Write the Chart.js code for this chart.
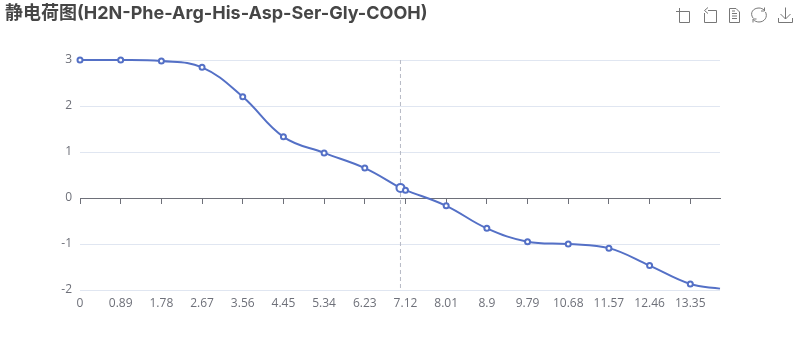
<!DOCTYPE html>
<html><head><meta charset="utf-8">
<style>
html,body{margin:0;padding:0;background:#fff;}
#wrap{position:relative;width:800px;height:360px;overflow:hidden;}
#tools{position:absolute;left:0;top:0;}
</style>
<script src="https://cdn.jsdelivr.net/npm/chart.js@4"></script>
</head><body>
<div id="wrap">
<canvas id="c" width="800" height="360"></canvas>
<svg id="tools" width="800" height="40" fill="none" stroke="#777" stroke-width="1">
<path d="M676.500 11.500H689.500V22.500H679.500V8M676 11.500H679"/>
<path d="M708 10.500H716.500V22.500H704.500V13M708 7.500L704.500 10.500L708 13.500"/>
<path d="M729.500 8.500H736L739.500 12V22.500H729.500ZM732 13.500H737M732 16H737M732 18.500H737M732 11H735"/>
<path d="M753 18C749.500 13 753 8 759 8C761 8 763 9 764 10M765.500 12C768 17 764.500 22 759 22C756.500 22 755 21 753.500 20M764.500 7.500V11H761M753 22.500V19H756.500"/>
<path d="M785.500 7.500V19M780.500 14L785.500 19L790.500 14M778.500 18V22.500H792.500V18"/>
</svg>
</div>
<script>
const titleText = "静电荷图(H2N-Phe-Arg-His-Asp-Ser-Gly-COOH)";
const tickValues = [0,0.89,1.78,2.67,3.56,4.45,5.34,6.23,7.12,8.01,8.9,9.79,10.68,11.57,12.46,13.35];
const xValues = [0,0.89,1.78,2.67,3.56,4.45,5.34,6.23,7.01,7.12,8.01,8.9,9.79,10.68,11.57,12.46,13.35,14];
const charges = [3,3,2.98,2.84,2.2,1.33,0.98,0.65,0.22,0.17,-0.17,-0.66,-0.95,-1,-1.09,-1.47,-1.87,-1.97];
const hoverX = 7.01;
const yMin = -2, yMax = 3, xMin = 0, xMax = 14;
const font = '"Open Sans","Noto Sans CJK SC",sans-serif';
const titleFont = 'Inter,"Noto Sans CJK SC",sans-serif';
const axisGray = '#6E7079', blue = '#5470C6';
const setTicks = s => { s.ticks = tickValues.map(v => ({value:v})); };

new Chart(document.getElementById('c'), {
  type:'line',
  data:{datasets:[
    {label:'静电荷', data:xValues.map((x,i)=>({x,y:charges[i]})), order:1,
     borderColor:blue, borderWidth:2, backgroundColor:'#fff', tension:0.4,
     pointBackgroundColor:'#fff', pointBorderColor:blue,
     pointBorderWidth:2,
     pointRadius:xValues.map(x=> x===hoverX ? 4 : (x===xMax ? 0 : 2.5)), clip:false},
    {label:'pointer', data:[{x:hoverX,y:yMax},{x:hoverX,y:yMin}], order:2,
     borderColor:'#B6B9C5', borderWidth:1, borderDash:[4,3], pointRadius:0, tension:0}
  ]},
  options:{
    responsive:false, animation:false, events:[],
    layout:{padding:{left:5,right:80,top:0,bottom:0}},
    plugins:{legend:{display:false},tooltip:{enabled:false},
      title:{display:true,text:titleText,align:'start',color:'#464646',
        font:{family:titleFont,size:18,weight:'bold',lineHeight:1.2},padding:{top:3,bottom:35.400}}},
    scales:{
      x:{type:'linear',position:'bottom',min:xMin,max:xMax,afterBuildTicks:setTicks,
         afterFit:s=>{s.height=70;},
         grid:{display:false,drawTicks:false},border:{display:false},
         ticks:{color:axisGray,font:{family:font,size:12},padding:6,maxRotation:0,autoSkip:false,
                callback:v=>String(v)}},
      x2:{type:'linear',position:{y:0},min:xMin,max:xMax,afterBuildTicks:setTicks,
         grid:{drawOnChartArea:false,drawTicks:true,tickLength:5,color:axisGray,tickColor:axisGray},
         border:{display:true,color:axisGray,width:1},
         ticks:{display:false}},
      y:{type:'linear',min:yMin,max:yMax,afterFit:s=>{s.width=75;},
         grid:{color:'#E0E6F1',drawTicks:false},border:{display:false},
         ticks:{stepSize:1,color:axisGray,font:{family:font,size:12},padding:8}}
    }
  }
});
</script>
</body></html>
